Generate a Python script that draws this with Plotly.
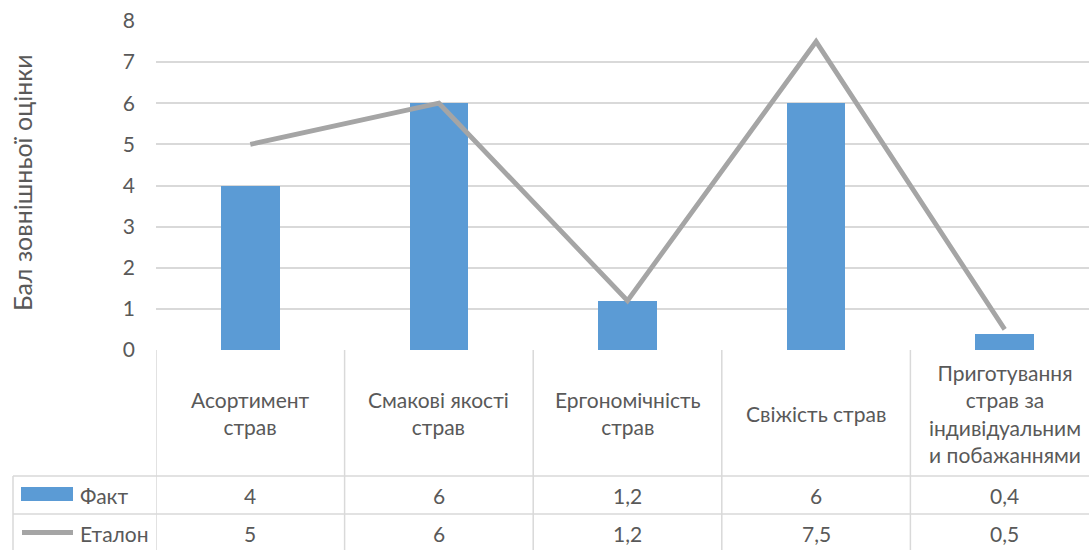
import plotly.graph_objects as go

categories = ["Асортимент<br>страв", "Смакові якості<br>страв", "Ергономічність<br>страв",
              "Свіжість страв", "Приготування<br>страв за<br>індивідуальним<br>и побажаннями"]
fact = [4, 6, 1.2, 6, 0.4]
etalon = [5, 6, 1.2, 7.5, 0.5]
series_names = ["Факт", "Еталон"]
y_title = "Бал зовнішньої оцінки"
y_ticks = [0, 1, 2, 3, 4, 5, 6, 7, 8]

W, H = 1089, 550
L, T, B = 156, 21, 200
PLOT_BOTTOM = H - B
PLOT_H = H - T - B
PLOT_W = W - L
CAT_W = 188.6

FONT = "Lato, Carlito, 'Open Sans', sans-serif"
TXT = "#595959"
GRID = "#d9d9d9"
BAR = "#5b9bd5"
LINE = "#a5a5a5"
FS = 21


def py(p):
    return (PLOT_BOTTOM - p) / PLOT_H


def pxp(p):
    return (p - L) / PLOT_W


def fmt(v):
    return f"{v:g}".replace(".", ",")


xs = list(range(len(categories)))

fig = go.Figure()
fig.add_trace(go.Bar(x=xs, y=fact, name=series_names[0], marker_color=BAR, width=0.31,
                     marker_line_width=0))
fig.add_trace(go.Scatter(x=xs, y=etalon, name=series_names[1], mode="lines",
                         line=dict(color=LINE, width=4.8)))

shapes = []
# vertical category lines in table
for i in range(len(categories) + 1):
    shapes.append(dict(type="line", xref="x", yref="paper", x0=i - 0.5, x1=i - 0.5,
                       y0=0, y1=py(H + 5), line=dict(color=GRID, width=1.5), layer="below"))
# horizontal table lines
for yy in (476, 514, 552):
    shapes.append(dict(type="line", xref="paper", yref="paper", x0=pxp(13), x1=1,
                       y0=py(yy), y1=py(yy), line=dict(color=GRID, width=1.5)))
# left border of series rows
shapes.append(dict(type="line", xref="paper", yref="paper", x0=pxp(13), x1=pxp(13),
                   y0=py(476), y1=py(H + 5), line=dict(color=GRID, width=1.5)))
# legend keys
shapes.append(dict(type="rect", xref="paper", yref="paper", x0=pxp(21), x1=pxp(73),
                   y0=py(501), y1=py(487), fillcolor=BAR, line=dict(width=0)))
shapes.append(dict(type="line", xref="paper", yref="paper", x0=pxp(22), x1=pxp(73),
                   y0=py(532.5), y1=py(532.5), line=dict(color=LINE, width=5)))

ann = []
for i, c in enumerate(categories):
    ann.append(dict(x=i, y=py(413), xref="x", yref="paper", text=c, showarrow=False,
                    xanchor="center", yanchor="middle",
                    font=dict(family=FONT, size=FS, color=TXT)))
    ann.append(dict(x=i, y=py(495), xref="x", yref="paper", text=fmt(fact[i]), showarrow=False,
                    xanchor="center", yanchor="middle",
                    font=dict(family=FONT, size=FS, color=TXT)))
    ann.append(dict(x=i, y=py(533), xref="x", yref="paper", text=fmt(etalon[i]), showarrow=False,
                    xanchor="center", yanchor="middle",
                    font=dict(family=FONT, size=FS, color=TXT)))
ann.append(dict(x=pxp(78), y=py(495), xref="paper", yref="paper", text=series_names[0],
                showarrow=False, xanchor="left", yanchor="middle",
                font=dict(family=FONT, size=FS, color=TXT)))
ann.append(dict(x=pxp(78), y=py(533), xref="paper", yref="paper", text=series_names[1],
                showarrow=False, xanchor="left", yanchor="middle",
                font=dict(family=FONT, size=FS, color=TXT)))
ann.append(dict(x=pxp(22), y=py(183), xref="paper", yref="paper", text=y_title, showarrow=False,
                textangle=-90, xanchor="center", yanchor="middle",
                font=dict(family=FONT, size=25, color=TXT)))

fig.update_layout(
    width=W, height=H,
    margin=dict(l=L, r=0, t=T, b=B, pad=0),
    paper_bgcolor="white", plot_bgcolor="white",
    showlegend=False,
    bargap=0,
    shapes=shapes,
    annotations=ann,
    font=dict(family=FONT, size=FS, color=TXT),
    xaxis=dict(range=[-0.5, -0.5 + PLOT_W / CAT_W], showticklabels=False, showgrid=False,
               zeroline=False, showline=False, ticks="", fixedrange=True),
    yaxis=dict(range=[0, 8], tickvals=y_ticks, showgrid=True, gridcolor=GRID, gridwidth=1.5,
               zeroline=False, showline=False, ticks="", ticklabelstandoff=20,
               tickfont=dict(family=FONT, size=FS, color=TXT), fixedrange=True),
)

fig.write_html("out.html", config={"displayModeBar": False})
